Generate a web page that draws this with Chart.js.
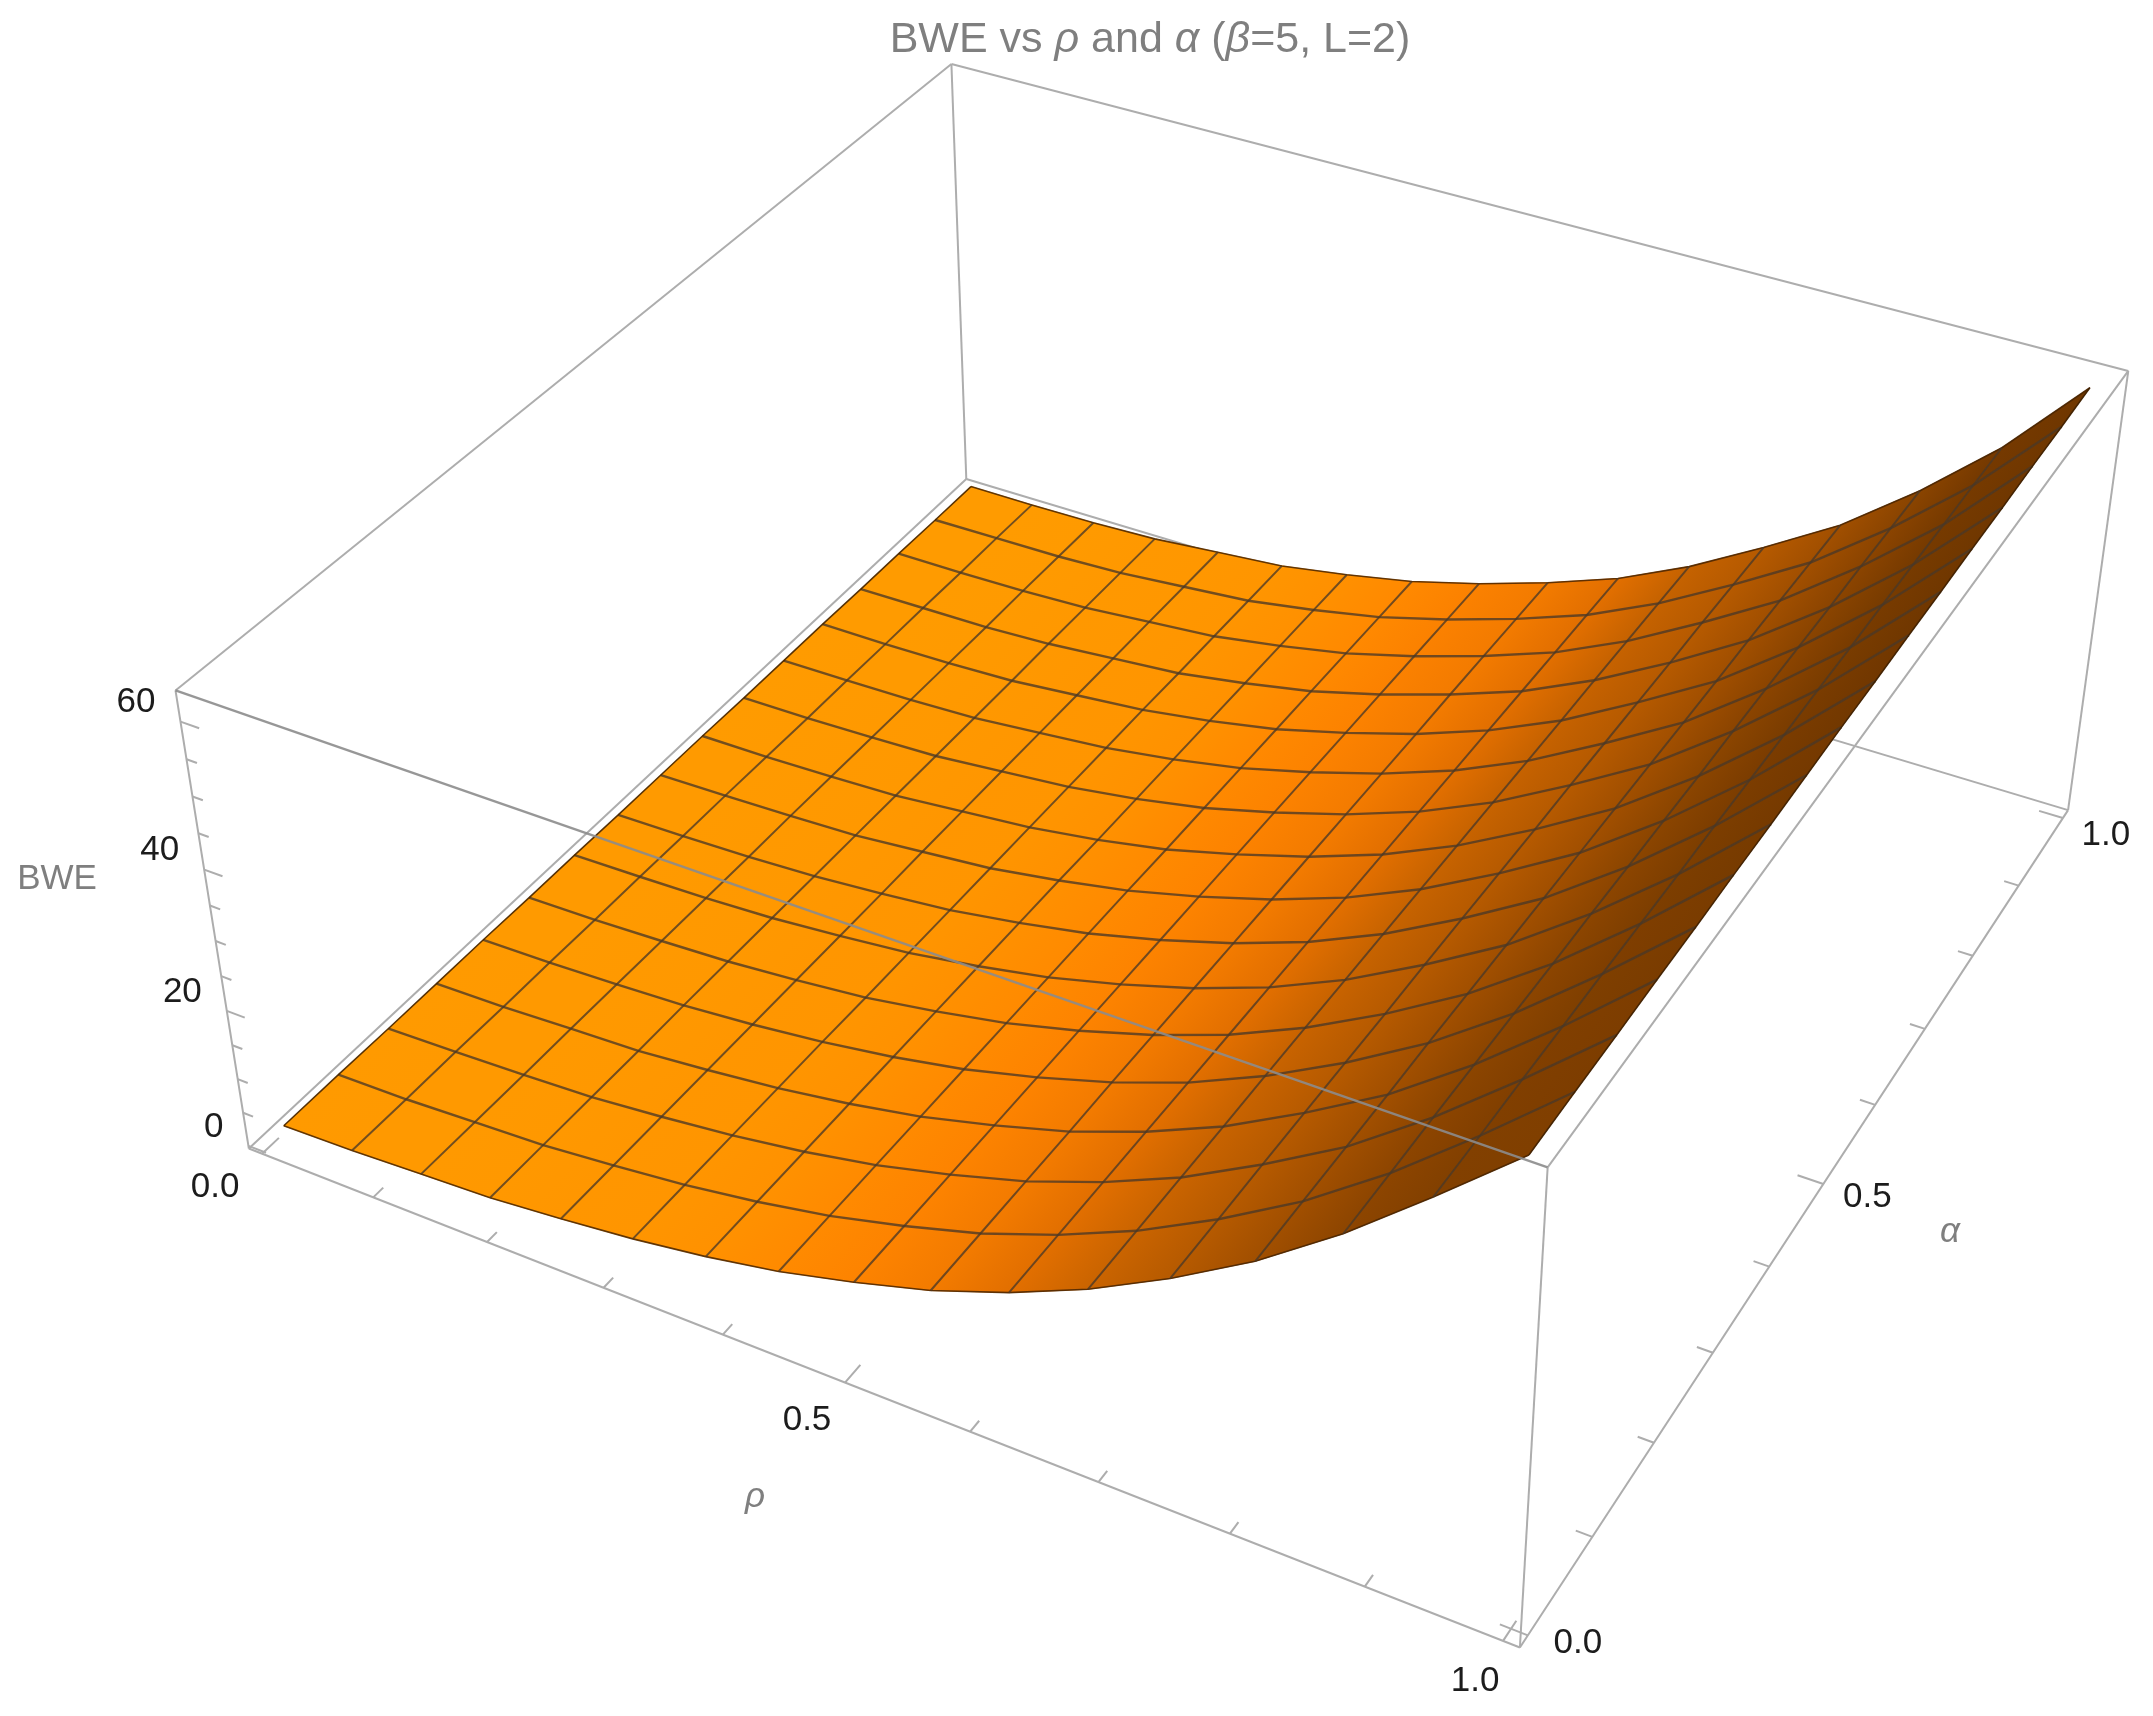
<!DOCTYPE html>
<html>
<head>
<meta charset="utf-8">
<title>BWE vs rho and alpha</title>
<script src="https://cdn.jsdelivr.net/npm/chart.js@4"></script>
<style>
    html, body { margin: 0; background: #fff; }
    canvas { display: block; }
</style>
</head>
<body>
<canvas id="surface-chart" width="2153" height="1716"></canvas>
<script>
// mesh positions on the two axes
const rhoGrid = [0, 0.062, 0.124, 0.185, 0.247, 0.309, 0.371, 0.432, 0.494, 0.556, 0.618, 0.679, 0.741, 0.803, 0.865, 0.926, 0.988];
const alphaGrid = [0.015, 0.081, 0.143, 0.204, 0.265, 0.326, 0.388, 0.449, 0.51, 0.571, 0.633, 0.694, 0.755, 0.816, 0.878, 0.939, 1];

const bweValues = [
    [0.6, 0.9, 1.4, 1.9, 2.9, 4.1, 5.7, 7.7, 10.4, 13.5, 17.5, 22.2, 28, 34.6, 42.5, 51.4, 60.8],
    [0.6, 0.8, 1.3, 1.8, 2.8, 4, 5.6, 7.6, 10.3, 13.4, 17.4, 22.1, 27.9, 34.5, 42.4, 51.3, 60.9],
    [0.5, 0.8, 1.2, 1.7, 2.7, 3.9, 5.5, 7.5, 10.2, 13.3, 17.3, 22, 27.9, 34.4, 42.4, 51.3, 60.9],
    [0.5, 0.7, 1.2, 1.6, 2.6, 3.8, 5.4, 7.4, 10.1, 13.2, 17.2, 21.9, 27.8, 34.3, 42.3, 51.2, 61],
    [0.5, 0.7, 1.1, 1.6, 2.5, 3.7, 5.3, 7.3, 10, 13.2, 17.1, 21.9, 27.7, 34.3, 42.2, 51.2, 61],
    [0.4, 0.6, 1, 1.5, 2.4, 3.5, 5.2, 7.2, 9.9, 13.1, 17, 21.8, 27.6, 34.2, 42.1, 51.1, 61.1],
    [0.4, 0.6, 0.9, 1.4, 2.3, 3.4, 5.1, 7.1, 9.8, 13, 16.9, 21.7, 27.6, 34.1, 42.1, 51, 61.1],
    [0.3, 0.5, 0.8, 1.3, 2.2, 3.3, 5, 7, 9.7, 12.9, 16.8, 21.6, 27.5, 34, 42, 51, 61.2],
    [0.3, 0.5, 0.8, 1.2, 2.2, 3.2, 4.9, 6.9, 9.6, 12.8, 16.7, 21.5, 27.4, 33.9, 41.9, 50.9, 61.3],
    [0.3, 0.4, 0.7, 1.1, 2.1, 3.1, 4.7, 6.7, 9.5, 12.7, 16.6, 21.4, 27.3, 33.8, 41.8, 50.8, 61.3],
    [0.2, 0.3, 0.6, 1, 2, 3, 4.6, 6.6, 9.4, 12.6, 16.5, 21.3, 27.3, 33.7, 41.8, 50.8, 61.4],
    [0.2, 0.3, 0.5, 0.9, 1.9, 2.9, 4.5, 6.5, 9.3, 12.5, 16.4, 21.2, 27.2, 33.6, 41.7, 50.7, 61.4],
    [0.2, 0.2, 0.4, 0.8, 1.8, 2.8, 4.4, 6.4, 9.2, 12.4, 16.3, 21.1, 27.1, 33.5, 41.6, 50.7, 61.5],
    [0.1, 0.2, 0.3, 0.8, 1.7, 2.6, 4.3, 6.3, 9.1, 12.4, 16.2, 21.1, 27, 33.5, 41.5, 50.6, 61.5],
    [0.1, 0.1, 0.3, 0.7, 1.6, 2.5, 4.2, 6.2, 9, 12.3, 16.1, 21, 27, 33.4, 41.5, 50.5, 61.6],
    [0, 0.1, 0.2, 0.6, 1.5, 2.4, 4.1, 6.1, 8.9, 12.2, 16, 20.9, 26.9, 33.3, 41.4, 50.5, 61.6],
    [0, 0, 0.1, 0.5, 1.4, 2.3, 4, 6, 8.8, 12.1, 15.9, 20.8, 26.8, 33.2, 41.3, 50.4, 61.7]
];

// axis ticks
const rhoTicks = [0, 0.1, 0.2, 0.3, 0.4, 0.5, 0.6, 0.7, 0.8, 0.9, 1];
const alphaTicks = [0, 0.1, 0.2, 0.3, 0.4, 0.5, 0.6, 0.7, 0.8, 0.9, 1];
const bweTicks = [0, 5, 10, 15, 20, 25, 30, 35, 40, 45, 50, 55, 60];
const rhoTickLabels = ['0.0', '0.5', '1.0'];
const alphaTickLabels = ['0.0', '0.5', '1.0'];
const bweTickLabels = ['0', '20', '40', '60'];

const rhoRange = [-0.012, 1.012];
const alphaRange = [-0.012, 1.012];
const bweRange = [-0.4, 64.1];

// where the eight box corners land on the page, it fixes the perspective camera
const boxCamera = [
    [0, 0, 0, 248, 1148], [1, 0, 0, 1520, 1647], [1, 1, 0, 2068, 811], [0, 1, 0, 967, 479],
    [0, 0, 1, 176, 691], [1, 0, 1, 1548, 1168], [1, 1, 1, 2128, 370], [0, 1, 1, 951, 64]
];

const solveLinear = (matrix, rhs) => {
    const n = rhs.length;
    const m = matrix.map((row, i) => [...row, rhs[i]]);
    for (let i = 0; i < n; i++) {
        let best = i;
        for (let k = i; k < n; k++) {
            if (Math.abs(m[k][i]) > Math.abs(m[best][i])) best = k;
        }
        [m[i], m[best]] = [m[best], m[i]];
        for (let k = 0; k < n; k++) {
            if (k === i) continue;
            const f = m[k][i] / m[i][i];
            for (let j = i; j <= n; j++) m[k][j] -= f * m[i][j];
        }
    }
    return m.map((row, i) => row[n] / row[i]);
};

// least squares fit of the 3D -> 2D projection
const fitCamera = () => {
    const rows = [];
    const rhs = [];
    boxCamera.forEach(([x, y, z, px, py]) => {
        const u = px / 1000;
        const v = py / 1000;
        rows.push([x, y, z, 1, 0, 0, 0, 0, -u * x, -u * y, -u * z]);
        rhs.push(u);
        rows.push([0, 0, 0, 0, x, y, z, 1, -v * x, -v * y, -v * z]);
        rhs.push(v);
    });
    const idx = [...Array(11).keys()];
    const normal = idx.map(i => idx.map(j => rows.reduce((s, r) => s + r[i] * r[j], 0)));
    const b = idx.map(i => rows.reduce((s, r, k) => s + r[i] * rhs[k], 0));
    return solveLinear(normal, b);
};
const cam = fitCamera();

const unit = (v, range) => (v - range[0]) / (range[1] - range[0]);

const project = (rho, alpha, bwe) => {
    const x = unit(rho, rhoRange);
    const y = unit(alpha, alphaRange);
    const z = unit(bwe, bweRange);
    const w = cam[8] * x + cam[9] * y + cam[10] * z + 1;
    return {
        x: 1000 * (cam[0] * x + cam[1] * y + cam[2] * z + cam[3]) / w,
        y: 1000 * (cam[4] * x + cam[5] * y + cam[6] * z + cam[7]) / w
    };
};

// surface shade depends on how steep the surface is along rho
const shadeStops = [
    [0, 255, 155, 0], [25, 255, 148, 0], [45, 255, 133, 0], [65, 236, 116, 0],
    [85, 202, 100, 0], [110, 168, 83, 0], [135, 142, 70, 0], [170, 112, 55, 0]
];

const shadeFor = (row, j) => {
    const lo = Math.max(j - 1, 0);
    const hi = Math.min(j + 1, rhoGrid.length - 1);
    const slope = (row[hi] - row[lo]) / (rhoGrid[hi] - rhoGrid[lo]);
    for (let i = 1; i < shadeStops.length; i++) {
        if (slope <= shadeStops[i][0]) {
            const a = shadeStops[i - 1];
            const b = shadeStops[i];
            const t = Math.max(slope - a[0], 0) / (b[0] - a[0]);
            return `rgb(${a[1] + (b[1] - a[1]) * t}, ${a[2] + (b[2] - a[2]) * t}, 0)`;
        }
    }
    return 'rgb(112, 55, 0)';
};

const gradientCtx = document.createElement('canvas').getContext('2d');

const lineSet = (data, color, width) => ({
    data,
    showLine: true,
    borderColor: color,
    borderWidth: width,
    pointRadius: 0,
    fill: false,
    tension: 0
});

const boxEdge = (a, b) => [project(...a), project(...b)];
const [r0, r1] = rhoRange;
const [a0, a1] = alphaRange;
const [z0, z1] = bweRange;

const gray = '#adadad';
const backEdges = [
    boxEdge([r0, a1, z1], [r0, a1, z0]),
    boxEdge([r0, a1, z1], [r0, a0, z1]),
    boxEdge([r0, a1, z1], [r1, a1, z1]),
    boxEdge([r0, a1, z0], [r0, a0, z0]),
    boxEdge([r0, a1, z0], [r1, a1, z0]),
    boxEdge([r1, a1, z0], [r1, a1, z1])
].map(d => lineSet(d, gray, 2));

const frontEdges = [
    boxEdge([r0, a0, z0], [r0, a0, z1]),
    boxEdge([r0, a0, z0], [r1, a0, z0]),
    boxEdge([r1, a0, z0], [r1, a1, z0]),
    boxEdge([r1, a0, z0], [r1, a0, z1]),
    boxEdge([r1, a0, z1], [r1, a1, z1])
].map(d => lineSet(d, gray, 2));
frontEdges.push(lineSet(boxEdge([r0, a0, z1], [r1, a0, z1]), 'rgba(140, 140, 140, 0.9)', 2.4));

const tickSets = [];
rhoTicks.forEach((t, i) => {
    const len = (i % 5 === 0) ? 0.02 : 0.012;
    tickSets.push(lineSet(boxEdge([t, a0, z0], [t, a0 + len, z0]), gray, 2));
});
alphaTicks.forEach((t, i) => {
    const len = (i % 5 === 0) ? 0.02 : 0.012;
    tickSets.push(lineSet(boxEdge([r1, t, z0], [r1 - len, t, z0]), gray, 2));
});
bweTicks.forEach((t, i) => {
    const len = (i % 4 === 0) ? 0.016 : 0.009;
    tickSets.push(lineSet(boxEdge([r0, a0, t], [r0 + len, a0, t]), gray, 2));
});

// one filled quad for every mesh cell, far ones first
const cellSets = [];
for (let i = alphaGrid.length - 2; i >= 0; i--) {
    for (let j = 0; j < rhoGrid.length - 1; j++) {
        const p00 = project(rhoGrid[j], alphaGrid[i], bweValues[i][j]);
        const p10 = project(rhoGrid[j + 1], alphaGrid[i], bweValues[i][j + 1]);
        const p11 = project(rhoGrid[j + 1], alphaGrid[i + 1], bweValues[i + 1][j + 1]);
        const p01 = project(rhoGrid[j], alphaGrid[i + 1], bweValues[i + 1][j]);
        const sx = (p00.x + p01.x) / 2;
        const sy = (p00.y + p01.y) / 2;
        const ex = p01.x - p00.x;
        const ey = p01.y - p00.y;
        const dx = (p10.x + p11.x) / 2 - sx;
        const dy = (p10.y + p11.y) / 2 - sy;
        const k = (dx * ex + dy * ey) / (ex * ex + ey * ey);
        const grad = gradientCtx.createLinearGradient(sx, sy, sx + dx - k * ex, sy + dy - k * ey);
        grad.addColorStop(0, shadeFor(bweValues[i], j));
        grad.addColorStop(1, shadeFor(bweValues[i], j + 1));
        cellSets.push({
            data: [p00, p10, p11, p01, p00],
            showLine: true,
            borderColor: grad,
            backgroundColor: grad,
            borderWidth: 1,
            pointRadius: 0,
            fill: 'shape',
            tension: 0
        });
    }
}

const meshColor = 'rgba(74, 56, 38, 0.78)';
const meshSets = [];
alphaGrid.forEach((a, i) => {
    const data = rhoGrid.map((r, j) => project(r, a, bweValues[i][j]));
    const edge = i === 0 || i === alphaGrid.length - 1;
    meshSets.push(lineSet(data, edge ? 'rgba(70, 35, 0, 0.85)' : meshColor, edge ? 1.6 : 2.4));
});
rhoGrid.forEach((r, j) => {
    const data = alphaGrid.map((a, i) => project(r, a, bweValues[i][j]));
    const edge = j === 0 || j === rhoGrid.length - 1;
    meshSets.push(lineSet(data, edge ? 'rgba(60, 30, 0, 0.85)' : meshColor, edge ? 1.6 : 2));
});

// painted bottom to top, Chart.js draws the first dataset last
const paintOrder = [...backEdges, ...cellSets, ...meshSets, ...tickSets, ...frontEdges];

const tickFont = '35px "Liberation Sans"';
const labelGray = '#7f7f7f';

const drawText = (ctx, text, x, y, font, color, align) => {
    ctx.font = font;
    ctx.fillStyle = color;
    ctx.textAlign = align || 'center';
    ctx.textBaseline = 'middle';
    ctx.fillText(text, x, y);
};

const titleRuns = [
    ['BWE vs ', false], ['\u03c1', true], [' and ', false], ['\u03b1', true],
    [' (', false], ['\u03b2', true], ['=5, L=2)', false]
];

const labelsPlugin = {
    id: 'surfaceLabels',
    afterDraw(chart) {
        const ctx = chart.ctx;
        ctx.save();

        bweTickLabels.forEach(label => {
            const p = project(r0, a0, Number(label));
            drawText(ctx, label, p.x - 25, p.y - 19, tickFont, '#1c1c1c', 'right');
        });
        const rhoOffsets = [[-47, 34], [-38, 38], [-28, 40]];
        rhoTickLabels.forEach((label, i) => {
            const p = project(Number(label), a0, z0);
            drawText(ctx, label, p.x + rhoOffsets[i][0], p.y + rhoOffsets[i][1], tickFont, '#1c1c1c');
        });
        const alphaOffsets = [[50, 8], [44, 13], [43, 17]];
        alphaTickLabels.forEach((label, i) => {
            const p = project(r1, Number(label), z0);
            drawText(ctx, label, p.x + alphaOffsets[i][0], p.y + alphaOffsets[i][1], tickFont, '#1c1c1c');
        });

        drawText(ctx, 'BWE', 57, 879, tickFont, labelGray);
        drawText(ctx, '\u03c1', 755, 1497, 'italic 35px "Liberation Sans"', labelGray);
        drawText(ctx, '\u03b1', 1950, 1232, 'italic 35px "Liberation Sans"', labelGray);

        // title has italic greek letters so it is drawn run by run
        const plain = '43px "Liberation Sans"';
        const italic = 'italic 43px "Liberation Sans"';
        let total = 0;
        titleRuns.forEach(([text, it]) => {
            ctx.font = it ? italic : plain;
            total += ctx.measureText(text).width;
        });
        let x = 1150 - total / 2;
        titleRuns.forEach(([text, it]) => {
            drawText(ctx, text, x, 40, it ? italic : plain, labelGray, 'left');
            x += ctx.measureText(text).width;
        });
        ctx.restore();
    }
};

new Chart(document.getElementById('surface-chart'), {
    type: 'scatter',
    data: { datasets: paintOrder.reverse() },
    options: {
        responsive: false,
        animation: false,
        devicePixelRatio: 1,
        layout: { padding: 0 },
        plugins: {
            legend: { display: false },
            tooltip: { enabled: false },
            title: { display: false }
        },
        scales: {
            x: { type: 'linear', min: 0, max: 2153, display: false },
            y: { type: 'linear', min: 0, max: 1716, reverse: true, display: false }
        }
    },
    plugins: [labelsPlugin]
});
</script>
</body>
</html>
